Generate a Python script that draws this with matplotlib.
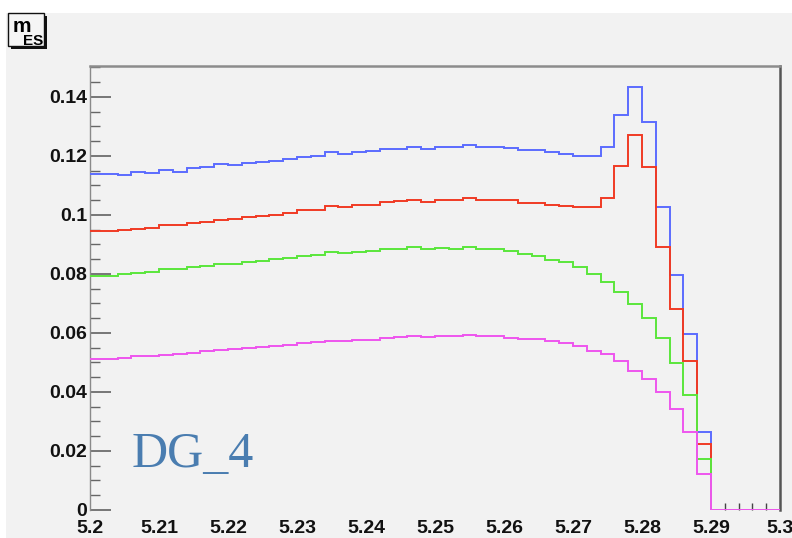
import numpy as np
import matplotlib
matplotlib.use("Agg")
import matplotlib.pyplot as plt
from matplotlib.patches import Rectangle
from matplotlib.ticker import FixedLocator, MultipleLocator

# m_ES spectrum, 50 bins from 5.20 to 5.30
bin_edges = np.linspace(5.2, 5.3, 51)

blue = [0.1139, 0.1139, 0.1137, 0.1145, 0.1141, 0.1152, 0.1147, 0.1159, 0.1163, 0.1171,
        0.1168, 0.1175, 0.1181, 0.1182, 0.1190, 0.1197, 0.1199, 0.1212, 0.1207, 0.1212,
        0.1218, 0.1225, 0.1224, 0.1231, 0.1225, 0.1232, 0.1231, 0.1238, 0.1231, 0.1231,
        0.1226, 0.1220, 0.1221, 0.1212, 0.1207, 0.1201, 0.1199, 0.1231, 0.1338, 0.1435,
        0.1315, 0.1028, 0.0795, 0.0596, 0.0263, 0, 0, 0, 0, 0]

red = [0.0947, 0.0947, 0.0948, 0.0952, 0.0957, 0.0966, 0.0966, 0.0972, 0.0977, 0.0984,
       0.0985, 0.0992, 0.0998, 0.1000, 0.1008, 0.1015, 0.1018, 0.1031, 0.1028, 0.1032,
       0.1035, 0.1043, 0.1046, 0.1050, 0.1044, 0.1050, 0.1050, 0.1057, 0.1050, 0.1052,
       0.1050, 0.1042, 0.1040, 0.1033, 0.1030, 0.1027, 0.1026, 0.1059, 0.1167, 0.1271,
       0.1162, 0.0890, 0.0680, 0.0505, 0.0223, 0, 0, 0, 0, 0]

green = [0.0793, 0.0793, 0.0798, 0.0803, 0.0807, 0.0815, 0.0817, 0.0824, 0.0827, 0.0833,
         0.0835, 0.0840, 0.0845, 0.0849, 0.0853, 0.0860, 0.0865, 0.0873, 0.0871, 0.0874,
         0.0876, 0.0885, 0.0885, 0.0891, 0.0884, 0.0888, 0.0886, 0.0890, 0.0885, 0.0883,
         0.0877, 0.0868, 0.0860, 0.0847, 0.0839, 0.0825, 0.0800, 0.0773, 0.0740, 0.0697,
         0.0650, 0.0583, 0.0499, 0.0388, 0.0173, 0, 0, 0, 0, 0]

magenta = [0.0511, 0.0513, 0.0516, 0.0520, 0.0522, 0.0526, 0.0529, 0.0532, 0.0537, 0.0543,
           0.0545, 0.0547, 0.0552, 0.0555, 0.0560, 0.0564, 0.0568, 0.0573, 0.0571, 0.0576,
           0.0576, 0.0583, 0.0586, 0.0588, 0.0586, 0.0589, 0.0589, 0.0594, 0.0590, 0.0589,
           0.0584, 0.0580, 0.0578, 0.0571, 0.0564, 0.0555, 0.0539, 0.0528, 0.0503, 0.0471,
           0.0443, 0.0399, 0.0342, 0.0263, 0.0120, 0, 0, 0, 0, 0]

x_ticks = [5.2, 5.21, 5.22, 5.23, 5.24, 5.25, 5.26, 5.27, 5.28, 5.29, 5.3]
x_labels = ["5.2", "5.21", "5.22", "5.23", "5.24", "5.25", "5.26", "5.27", "5.28", "5.29", "5.3"]
y_ticks = [0, 0.02, 0.04, 0.06, 0.08, 0.1, 0.12, 0.14]
y_labels = ["0", "0.02", "0.04", "0.06", "0.08", "0.1", "0.12", "0.14"]

W, H = 792, 538
BG = "#f2f2f2"
fig = plt.figure(figsize=(W / 100, H / 100), dpi=100, facecolor="white")


def px(x, y):
    """pixel (from top-left) -> figure fraction"""
    return x / W, 1 - y / H


# canvas pad
fig.patches.append(Rectangle(px(6, H), (W - 6) / W, (H - 13) / H,
                             transform=fig.transFigure, facecolor=BG,
                             edgecolor="none", zorder=-5))

x0, y0 = px(90, 509.8)
x1, y1 = px(780, 66)
ax = fig.add_axes([x0, y0, x1 - x0, y1 - y0])
ax.set_facecolor(BG)

series = [(blue, "#5b6cff"), (red, "#f03a24"), (green, "#5ae63c"), (magenta, "#ee55ee")]
for vals, col in series:
    ax.stairs(vals, bin_edges, baseline=None, color=col, lw=1.4, zorder=3)

ax.set_xlim(5.2, 5.3)
ax.set_ylim(0, 0.1505)

ax.spines["left"].set_color("#8a8a8a")
ax.spines["left"].set_linewidth(1.0)
ax.spines["bottom"].set_visible(False)
ax.spines["top"].set_color("#8c8c8c")
ax.spines["top"].set_linewidth(1.8)
ax.spines["right"].set_color("#555555")
ax.spines["right"].set_linewidth(1.8)

ax.set_yticks(y_ticks)
ax.set_yticklabels(y_labels)
ax.yaxis.set_minor_locator(MultipleLocator(0.005))
ax.tick_params(axis="y", which="major", direction="in", length=15, width=1.1,
               color="#555555", pad=2)
ax.tick_params(axis="y", which="minor", direction="in", length=7.5, width=1.0,
               color="#666666")

ax.set_xticks(x_ticks)
ax.set_xticklabels(x_labels)
ax.xaxis.set_minor_locator(FixedLocator([5.292, 5.294, 5.296, 5.298]))
ax.tick_params(axis="x", which="major", direction="in", length=0, pad=7)
ax.tick_params(axis="x", which="minor", direction="in", length=5, width=1.0,
               color="#444444")

for lab in ax.get_xticklabels() + ax.get_yticklabels():
    lab.set_fontfamily("Liberation Sans")
    lab.set_fontweight("bold")
    lab.set_fontsize(14)
    lab.set_color("#111111")

ax.text(5.206, 0.0145, "DG_4", fontsize=36, color="#4a7db0",
        fontfamily="Liberation Serif", ha="left", va="baseline", zorder=4)

# title box with drop shadow
bx, by = px(8, 46)
bw, bh = 36 / W, 33 / H
sx, sy = px(11, 49)
fig.patches.append(Rectangle((sx, sy), bw, bh, transform=fig.transFigure,
                             facecolor="#111111", edgecolor="none", zorder=5))
fig.patches.append(Rectangle((bx, by), bw, bh, transform=fig.transFigure,
                             facecolor="#f5f5f5", edgecolor="#111111",
                             lw=1.0, zorder=6))
tx, ty = px(13, 32)
fig.text(tx, ty, "m", fontsize=15, fontweight="bold", family="Liberation Sans",
         ha="left", va="baseline", zorder=7)
tx, ty = px(23, 45)
fig.text(tx, ty, "ES", fontsize=11, fontweight="bold", family="Liberation Sans",
         ha="left", va="baseline", zorder=7)

fig.savefig("out.png", dpi=100, facecolor=fig.get_facecolor())
